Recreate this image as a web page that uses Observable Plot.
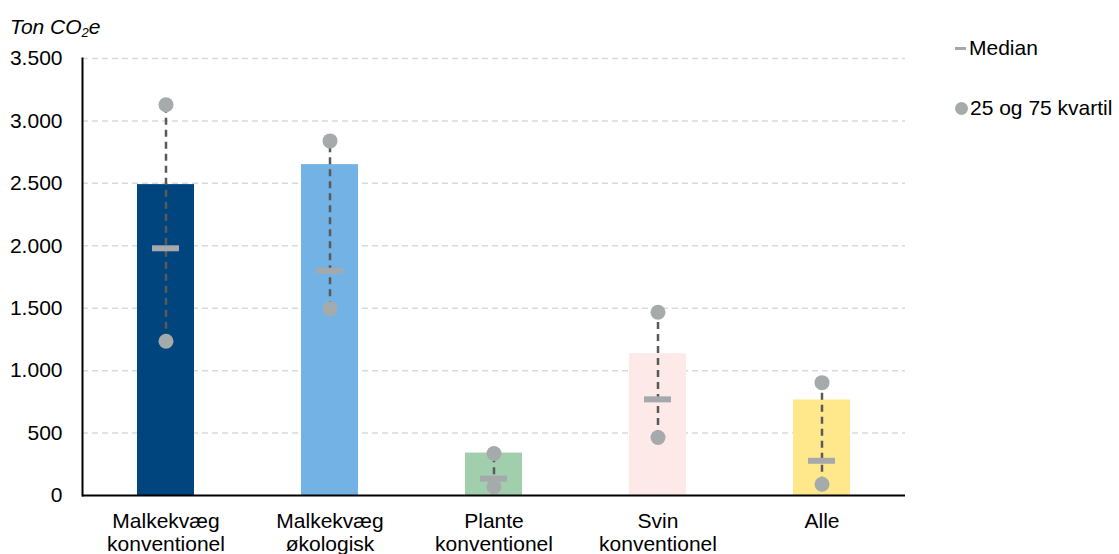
<!DOCTYPE html>
<html>
<head>
<meta charset="utf-8">
<script src="https://cdn.jsdelivr.net/npm/d3@7"></script>
<script src="https://cdn.jsdelivr.net/npm/@observablehq/plot@0.6"></script>
<style>
  body { margin: 0; background: #fff; font-family: "Liberation Sans", Arial, sans-serif; }
  #wrap { position: relative; width: 1119px; height: 554px; overflow: hidden; }
  #title { position: absolute; left: 10px; top: 15px; font-size: 21px; font-style: italic; color: #000; }
  #title sub { font-size: 13px; vertical-align: -3px; line-height: 0; }
  .leg { position: absolute; left: 955px; font-size: 21px; color: #000; display: flex; align-items: center; white-space: nowrap; }
  .leg .dash { width: 11px; height: 3px; background: #A5A9AB; margin-right: 3px; }
  .leg .dot { width: 13px; height: 13px; border-radius: 50%; background: #A5AAAB; margin-right: 2px; }
</style>
</head>
<body>
<div id="wrap">
  <div id="chart"></div>
  <div id="title">Ton CO<sub>2</sub>e</div>
  <div class="leg" style="top:36px"><span class="dash"></span>Median</div>
  <div class="leg" style="top:96px"><span class="dot"></span>25 og 75 kvartil</div>
</div>
<script>
const categories = ["Malkekvæg\nkonventionel", "Malkekvæg\nøkologisk", "Plante\nkonventionel", "Svin\nkonventionel", "Alle"];
const barValues = [2490, 2650, 340, 1135, 765];
const medians = [1980, 1800, 135, 770, 278];
const q1 = [1235, 1495, 70, 465, 90];
const q3 = [3130, 2840, 336, 1468, 904];
const colors = ["#00457E", "#73B2E4", "#A1CFAE", "#FCE9E8", "#FFE78C"];
const yTicks = [0, 500, 1000, 1500, 2000, 2500, 3000, 3500];

const rows = categories.map((c, i) => ({cat: c, value: barValues[i], median: medians[i], q1: q1[i], q3: q3[i], color: colors[i]}));
const fmt = d3.formatLocale({thousands: ".", grouping: [3], decimal: ",", currency: ["", ""]}).format(",");

const chart = Plot.plot({
  width: 1119,
  height: 554,
  marginLeft: 82,
  marginRight: 214,
  marginTop: 58,
  marginBottom: 59,
  style: {fontFamily: "'Liberation Sans', Arial, sans-serif", fontSize: "21px", color: "#000", background: "#fff"},
  x: {domain: categories, paddingInner: 0.654, paddingOuter: 0.327, label: null},
  y: {domain: [0, 3500], ticks: yTicks, label: null},
  color: {type: "identity"},
  marks: [
    Plot.gridY(yTicks.filter(d => d > 0), {stroke: "#d9d9d9", strokeOpacity: 1, strokeWidth: 1.5, strokeDasharray: "6,4"}),
    Plot.barY(rows, {x: "cat", y: "value", fill: "color"}),
    Plot.ruleX(rows, {x: "cat", y1: "q1", y2: "q3", stroke: "#595959", strokeWidth: 2.5, strokeDasharray: "7,5"}),
    Plot.tickY(rows, {x: "cat", y: "median", stroke: "#A5A9AB", strokeWidth: 6, insetLeft: 15, insetRight: 15}),
    Plot.dot(rows, {x: "cat", y: "q1", r: 7.5, fill: "#A5AAAB"}),
    Plot.dot(rows, {x: "cat", y: "q3", r: 7.5, fill: "#A5AAAB"}),
    Plot.axisY({ticks: yTicks, tickSize: 0, tickPadding: 20, tickFormat: fmt, fontSize: 21, label: null}),
    Plot.axisX({tickSize: 0, tickPadding: 17, fontSize: 21, lineHeight: 1.07, label: null}),
    Plot.frame({anchor: "left", stroke: "#000", strokeWidth: 2}),
    Plot.ruleY([0], {stroke: "#000", strokeWidth: 2})
  ]
});
document.getElementById("chart").appendChild(chart);
</script>
</body>
</html>
